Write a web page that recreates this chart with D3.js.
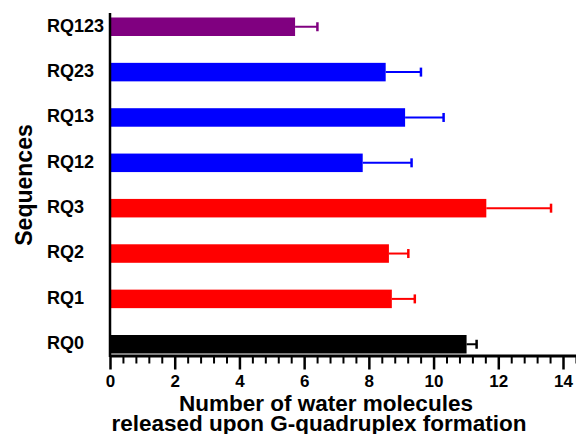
<!DOCTYPE html>
<html>
<head>
<meta charset="utf-8">
<script src="https://cdn.jsdelivr.net/npm/d3@7"></script>
<style>
  html, body { margin: 0; padding: 0; background: #fff; }
  svg { display: block; font-family: "Liberation Sans", Arial, sans-serif; font-weight: bold; }
</style>
</head>
<body>
<svg id="chart" width="576" height="434"></svg>
<script>
// Data (top to bottom)
const categories = ["RQ123", "RQ23", "RQ13", "RQ12", "RQ3", "RQ2", "RQ1", "RQ0"];
const values     = [5.72, 8.52, 9.12, 7.81, 11.63, 8.62, 8.71, 11.02];
const errors     = [0.69, 1.09, 1.19, 1.51, 2.00, 0.60, 0.71, 0.31];
const barColors  = ["#800080", "#0000FF", "#0000FF", "#0000FF", "#FF0000", "#FF0000", "#FF0000", "#000000"];
const majorTicks = [0, 2, 4, 6, 8, 10, 12, 14];
const xTitleLines = ["Number of water molecules", "released upon G-quadruplex formation"];
const yTitle = "Sequences";

const svg = d3.select("#chart");

const x = d3.scaleLinear().domain([0, 14]).range([110, 563]);
const y = d3.scaleBand().domain(categories).range([14.5, 356.5]).paddingInner(0.592).paddingOuter(0.066);

// Bars
svg.append("g").selectAll("rect").data(categories).join("rect")
  .attr("x", x(0))
  .attr("y", d => y(d))
  .attr("width", (d, i) => x(values[i]) - x(0))
  .attr("height", y.bandwidth())
  .attr("fill", (d, i) => barColors[i]);

// Error bars
const eb = svg.append("g");
categories.forEach((c, i) => {
  const cy = y(c) + y.bandwidth() / 2;
  const x1 = x(values[i]), x2 = x(values[i] + errors[i]);
  eb.append("line").attr("x1", x1).attr("x2", x2).attr("y1", cy).attr("y2", cy)
    .attr("stroke", barColors[i]).attr("stroke-width", 2);
  eb.append("line").attr("x1", x2).attr("x2", x2).attr("y1", cy - 4.5).attr("y2", cy + 4.5)
    .attr("stroke", barColors[i]).attr("stroke-width", 2.5);
});

// X axis: minor ticks
const minorVals = d3.range(0, 37).map(k => +(k * 0.4).toFixed(1)).filter(v => !majorTicks.includes(v));
const xMinor = d3.scaleLinear().domain([0, 14.4]).range([110, x(14.4)]);
svg.append("g").attr("transform", "translate(0,355.5)")
  .call(d3.axisBottom(xMinor).tickValues(minorVals).tickSize(8).tickSizeOuter(0).tickFormat(""))
  .call(g => g.select(".domain").attr("stroke", "#000").attr("stroke-width", 3))
  .call(g => g.selectAll(".tick line").attr("stroke", "#000").attr("stroke-width", 2));

// X axis: major ticks
svg.append("g").attr("transform", "translate(0,355.5)")
  .call(d3.axisBottom(x).tickValues(majorTicks).tickSize(14).tickPadding(5).tickSizeOuter(0).tickFormat(d3.format("d")))
  .call(g => g.select(".domain").remove())
  .call(g => g.selectAll(".tick line").attr("stroke", "#000").attr("stroke-width", 2.5))
  .call(g => g.selectAll(".tick text").attr("fill", "#000")
    .style("font-family", '"Liberation Sans", Arial, sans-serif')
    .style("font-weight", "bold").style("font-size", "17px"));

// Y axis line
svg.append("line").attr("x1", 110).attr("x2", 110).attr("y1", 13).attr("y2", 357)
  .attr("stroke", "#000").attr("stroke-width", 2.5);

// Category labels
svg.append("g").selectAll("text").data(categories).join("text")
  .attr("x", 47)
  .attr("y", d => y(d) + y.bandwidth() / 2 + 4.8)
  .attr("font-size", 18)
  .attr("fill", "#000")
  .text(d => d);

// X title
const xt = svg.append("text").attr("font-size", 22.5).attr("text-anchor", "middle").attr("fill", "#000");
xt.append("tspan").attr("x", 326).attr("y", 411).text(xTitleLines[0]);
xt.append("tspan").attr("x", 319).attr("y", 431).text(xTitleLines[1]);

// Y title
svg.append("text")
  .attr("transform", "translate(32,185) rotate(-90)")
  .attr("text-anchor", "middle")
  .attr("font-size", 23)
  .attr("fill", "#000")
  .text(yTitle);
</script>
</body>
</html>
